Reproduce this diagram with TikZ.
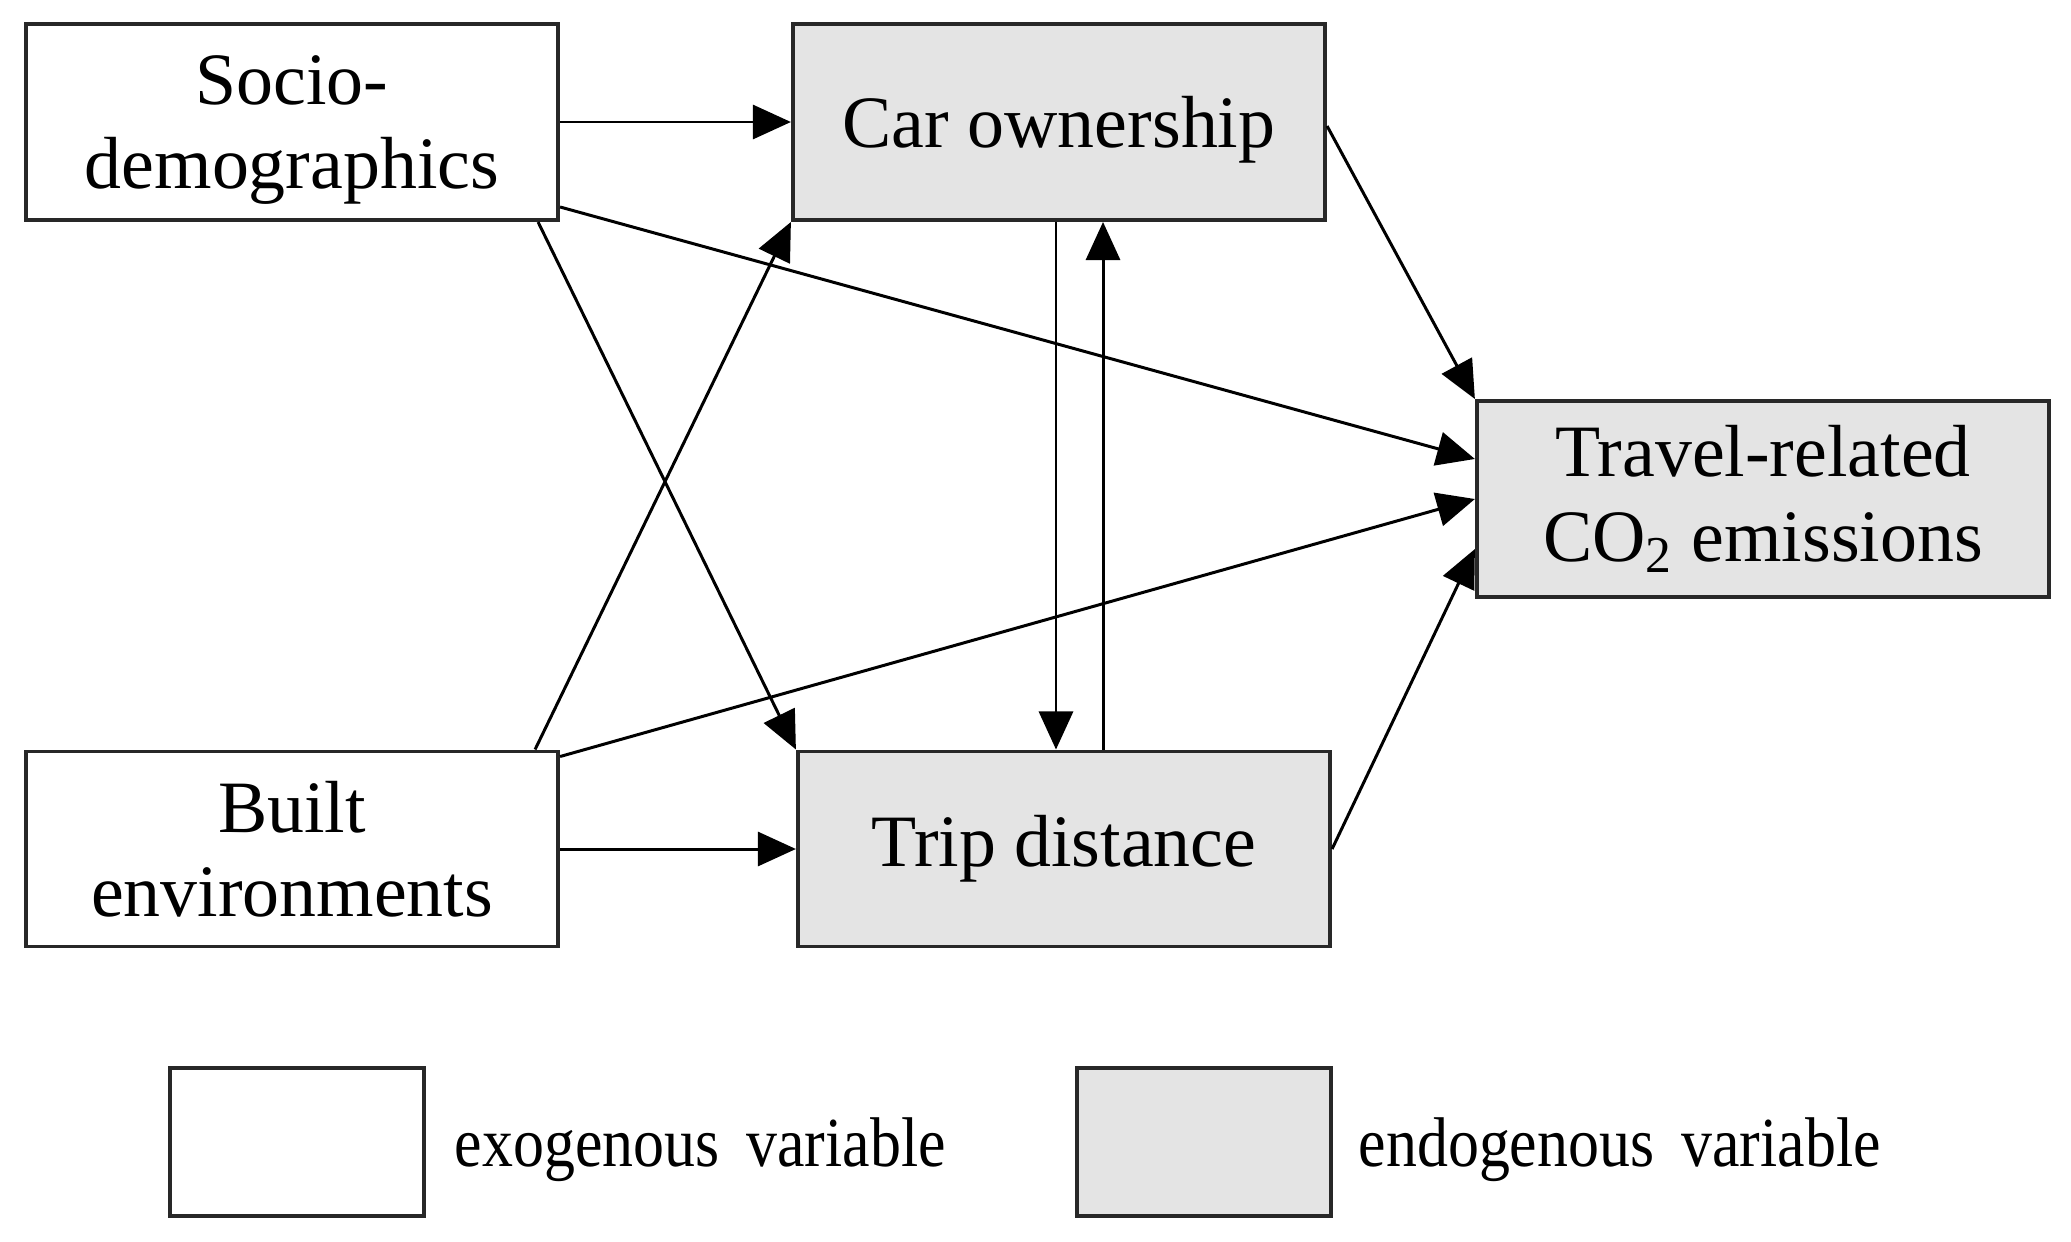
\documentclass[tikz,border=0pt]{standalone}
\usepackage{fontspec}
\setmainfont{Liberation Serif}
\newfontfamily\legendfont{Liberation Serif}[FakeStretch=0.88]
\usetikzlibrary{arrows.meta}
\definecolor{endo}{RGB}{228,228,228}
\definecolor{edge}{RGB}{40,40,40}
\tikzset{
  varbox/.style={draw=edge, line width=1.1pt, rectangle, align=center, inner sep=0pt,
    font=\fontsize{21}{24}\selectfont},
  exo/.style={varbox, fill=white},
  endobox/.style={varbox, fill=endo},
  link/.style={line width=0.85pt, -{Triangle[length=0.38cm,width=0.34cm]}},
  legendtext/.style={font=\legendfont\fontsize{20}{22}\selectfont, anchor=base west, inner sep=0pt}
}
\begin{document}
\begin{tikzpicture}[x=0.01cm,y=-0.01cm]
\useasboundingbox (0,0) rectangle (2071,1242);
% nodes
\node[exo, minimum width=5.32cm, minimum height=1.96cm, text depth=0pt] (socio) at (292,122) {Socio-\\demographics};
\node[endobox, minimum width=5.32cm, minimum height=1.96cm, text depth=0pt] (car) at (1059,122) {Car ownership};
\node[endobox, minimum width=5.72cm, minimum height=1.96cm] (travel) at (1763,499) {Travel-related\\CO\textsubscript{2} emissions};
\node[exo, minimum width=5.32cm, minimum height=1.95cm] (built) at (292,849) {Built\\environments};
\node[endobox, minimum width=5.32cm, minimum height=1.95cm] (trip) at (1064,849) {Trip distance};
% legend
\node[exo, minimum width=2.54cm, minimum height=1.48cm] (legexo) at (297,1142) {};
\node[endobox, minimum width=2.54cm, minimum height=1.48cm] (legendo) at (1204,1142) {};
\node[legendtext] (legexotext) at (454,1166) {exogenous\hspace{7.7pt}variable};
\node[legendtext] (legendotext) at (1358,1166) {endogenous\hspace{7.7pt}variable};
% connectors
\draw[link] (socio.east) -- (car.west);
\draw[link] (built.east) -- (built.east -| trip.west);
\draw[link] ([yshift=0.15cm]socio.south east) -- ([yshift=0.4cm]travel.west);
\draw[link] ([xshift=-0.22cm]socio.south east) -- (trip.north west);
\draw[link] ([xshift=-0.25cm]built.north east) -- (car.south west);
\draw[link] ([yshift=-0.07cm]built.north east) -- (travel.west);
\draw[link] ([xshift=-0.03cm]car.south) -- ([xshift=-0.03cm]car.south |- trip.north);
\draw[link] ([xshift=0.44cm]car.south |- trip.north) -- ([xshift=0.44cm]car.south);
\draw[link] ([yshift=-0.04cm]car.east) -- (travel.north west);
\draw[link] (trip.east) -- ([yshift=-0.5cm]travel.west);
\end{tikzpicture}
\end{document}
